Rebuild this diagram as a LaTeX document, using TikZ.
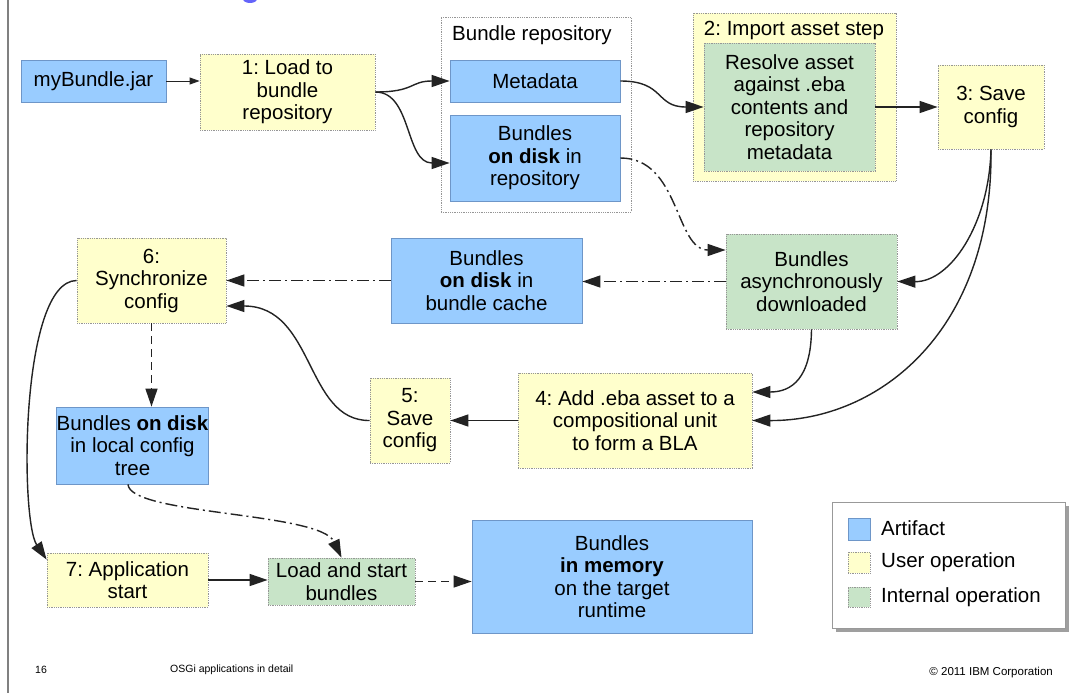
\documentclass[tikz,border=0pt]{standalone}
\usepackage{fontspec}
\setmainfont{Liberation Sans}
\usetikzlibrary{arrows.meta}
\definecolor{artblue}{RGB}{153,204,255}
\definecolor{artborder}{RGB}{110,150,200}
\definecolor{useryel}{RGB}{255,255,204}
\definecolor{intgreen}{RGB}{200,228,200}
\definecolor{dotgray}{RGB}{150,150,150}
\definecolor{linecol}{RGB}{35,35,35}
\definecolor{titleblue}{RGB}{100,100,250}
\begin{document}
\frenchspacing
\begin{tikzpicture}[x=1pt,y=-1pt,
  base/.style={inner sep=0pt, align=center, font=\fontsize{20.5}{22.5}\selectfont, text=black},
  sz/.style 2 args={minimum width=#1pt, minimum height=#2pt},
  artifact/.style={base, fill=artblue, draw=artborder, line width=0.8pt},
  userop/.style={base, fill=useryel, draw=dotgray, densely dotted, line width=0.8pt},
  intop/.style={base, fill=intgreen, draw=dotgray, densely dotted, line width=0.8pt},
  container/.style={base, fill=white, draw=dotgray, densely dotted, line width=0.8pt},
  flow/.style={draw=linecol, line width=1.4pt, -{Triangle[length=18pt,width=12pt]}},
  thinflow/.style={draw=linecol, line width=0.8pt, -{Triangle[length=10pt,width=7pt]}},
  dashdotflow/.style={flow, dash pattern=on 12pt off 4pt on 2pt off 4pt},
  dashedflow/.style={flow, dash pattern=on 8pt off 5pt},
  foot/.style={inner sep=0pt, font=\fontsize{10.5}{12}\selectfont, text=black},
  legtext/.style={base, anchor=west}
]
\useasboundingbox (0,0) rectangle (1070,693);
\fill[white] (0,0) rectangle (1070,693);
% cropped title fragment and slide edge
\fill[titleblue] (250,-1) ellipse [x radius=7, y radius=4];
\draw[gray, line width=1.5pt] (8,0) -- (8,693);

% containers
\node[container, sz={190}{195}] (repo) at (536,114.5) {};
\node[base] (repotitle) at (532,35) {Bundle repository};
\node[userop, sz={203}{168}] (imp) at (794.5,97) {};
\node[base] (imptitle) at (794,30) {2: Import asset step};

% boxes
\node[artifact, sz={145}{42}] (jar) at (93.5,81) {myBundle.jar};
\node[userop, sz={175}{76}] (load) at (287.5,92) {1: Load to\\bundle\\repository};
\node[artifact, sz={170}{42}] (meta) at (535,81) {Metadata};
\node[artifact, sz={170}{86}] (disk) at (535,158) {Bundles\\\textbf{on disk} in\\repository};
\node[intop, sz={171}{128}] (resolve) at (789.5,107) {Resolve asset\\against .eba\\contents and\\repository\\metadata};
\node[userop, sz={106}{84}] (save3) at (991,107) {3: Save\\config};
\node[intop, sz={171}{95}] (async) at (811.5,281.5) {Bundles\\asynchronously\\downloaded};
\node[artifact, sz={191}{85}] (cache) at (486.5,280.5) {Bundles\\\textbf{on disk} in\\bundle cache};
\node[userop, sz={149}{85}] (sync) at (151.5,280.5) {6:\\Synchronize\\config};
\node[userop, sz={80}{85}] (save5) at (410,420.5) {5:\\Save\\config};
\node[userop, sz={234}{95}] (add4) at (635,420.5) {4: Add .eba asset to a\\compositional unit\\to form a BLA};
\node[artifact, sz={149}{77}] (local) at (132.5,445.5) {Bundles \textbf{on disk}\\in local config\\tree};
\node[userop, sz={161}{54}] (app) at (127.5,580) {7: Application\\start};
\node[intop, sz={147}{47}] (ldst) at (341.5,581.5) {Load and start\\bundles};
\node[artifact, sz={280}{113}] (mem) at (612,576.5) {Bundles\\\textbf{in memory}\\on the target\\runtime};

% legend
\fill[gray!75] (836,506) rectangle (1069,632);
\node[base, fill=white, draw=gray!80, line width=0.8pt, sz={233}{126}] (legend) at (948.5,565) {};
\node[artifact, sz={22}{22}] (sw1) at (859,529) {};
\node[userop, sz={22}{21}] (sw2) at (859,562.5) {};
\node[intop, sz={22}{20}] (sw3) at (859,597) {};
\node[legtext] (lt1) at (881,528) {Artifact};
\node[legtext] (lt2) at (881,562) {User operation};
\node[legtext] (lt3) at (881,597) {Internal operation};

% connectors
\draw[thinflow] (jar.east) -- (jar.east -| load.west);
\draw[flow] (load.east) .. controls (415,92) and (410,81) .. (meta.west);
\draw[flow] (load.east) .. controls (412,92) and (405,163) .. ([yshift=-5pt]disk.west);
\draw[flow] (meta.east) .. controls (665,81) and (655,107) .. (resolve.west);
\draw[flow] (resolve.east) -- (save3.west);
\draw[flow] (save3.south) .. controls (989,225) and (950,282) .. (async.east);
\draw[flow] (save3.south) .. controls (993,330) and (880,421) .. (add4.east);
\draw[flow] (async.south) .. controls (811,378) and (792,392) .. ([yshift=28.5pt]add4.east);
\draw[dashdotflow] (disk.east) .. controls (680,158) and (675,250) .. ([yshift=31.5pt]async.west);
\draw[dashdotflow] (async.west) -- (async.west -| cache.east);
\draw[dashdotflow] (cache.west) -- (cache.west -| sync.east);
\draw[flow] (add4.west) -- (save5.east);
\draw[flow] (save5.west) .. controls (305,421) and (315,306) .. ([yshift=-25.5pt]sync.east);
\draw[dashedflow] (sync.south) -- (sync.south |- local.north);
\draw[flow] (sync.west) .. controls (20,281) and (20,520) .. ([yshift=-7pt]app.north west);
\draw[dashdotflow] ([xshift=-4.5pt]local.south) .. controls (130,515) and (320,512) .. (ldst.north);
\draw[flow] (app.east) -- (app.east -| ldst.west);
\draw[dashedflow] (ldst.east) -- (ldst.east -| mem.west);

% footer
\node[foot, anchor=west] (pagenum) at (35,670) {16};
\node[foot, anchor=west] (doctitle) at (170,670) {OSGi applications in detail};
\node[foot, anchor=east, font=\fontsize{11.5}{13}\selectfont] (copy) at (1053,673) {© 2011 IBM Corporation};
\end{tikzpicture}
\end{document}
